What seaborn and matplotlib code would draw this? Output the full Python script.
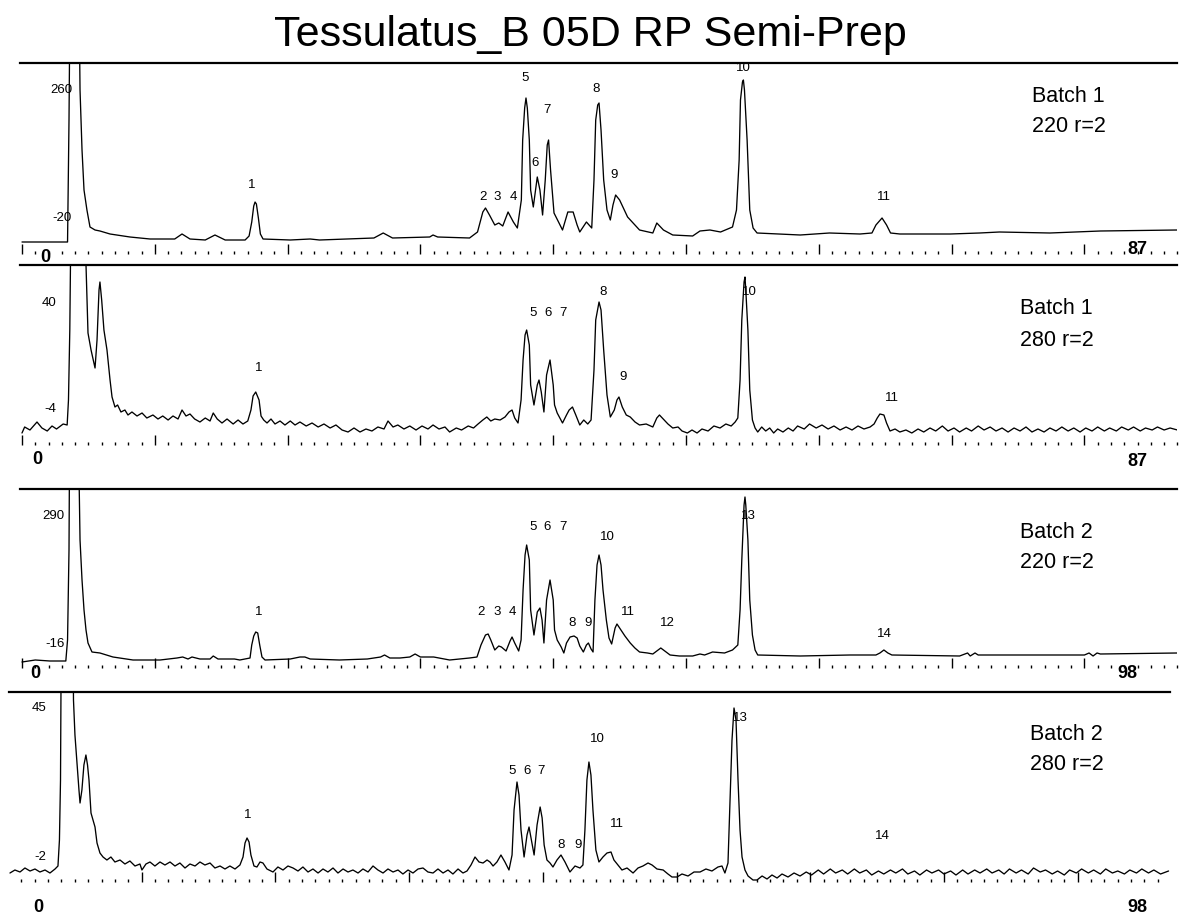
import numpy as np
import pandas as pd
import matplotlib
matplotlib.use("Agg")
import matplotlib.pyplot as plt
from matplotlib.ticker import MultipleLocator
import seaborn as sns

# ---------------- data (time in scale units, signal in arbitrary units above baseline) -------------
title = "Tessulatus_B 05D RP Semi-Prep"

trace_b1_220 = [
    (0, -2), (3.3, -2), (3.43, -2), (3.54, 120), (3.65, 300), (3.84, 600), (4.25, 300), (4.37, 150),
    (4.52, 90), (4.67, 50), (4.89, 30), (5.12, 13), (5.5, 10), (5.87, 9), (6.63, 6), (8.13, 3),
    (9.64, 1), (11.5, 1), (12.05, 6), (12.65, 1), (13.8, 0), (14.53, 5), (15.3, 0), (16.8, 0),
    (17.1, 4), (17.3, 18), (17.45, 34), (17.55, 38), (17.65, 36), (17.8, 22), (17.95, 6), (18.15, 1),
    (20.2, 0), (21.7, 1), (22.4, 0), (26.5, 2), (27.2, 7), (27.9, 2), (30.7, 3), (30.95, 5),
    (31.3, 3), (33.7, 2), (34.3, 8), (34.7, 28), (34.9, 32), (35.2, 25), (35.6, 15), (35.9, 17),
    (36.2, 14), (36.6, 28), (37.0, 18), (37.3, 12), (37.6, 40), (37.7, 100), (37.85, 132), (37.95, 142),
    (38.05, 132), (38.2, 100), (38.3, 50), (38.5, 33), (38.8, 63), (39.0, 50), (39.2, 25), (39.4, 60),
    (39.55, 95), (39.65, 100), (39.8, 70), (40.06, 27), (40.4, 18), (40.7, 10), (41.1, 28), (41.5, 28),
    (41.8, 15), (42.0, 8), (42.5, 18), (42.9, 12), (43.07, 60), (43.2, 120), (43.35, 135), (43.45, 137),
    (43.6, 110), (43.8, 60), (44.05, 30), (44.3, 20), (44.5, 35), (44.7, 45), (45.0, 40), (45.6, 23),
    (46.5, 10), (47.5, 7), (47.8, 17), (48.3, 10), (49.0, 5), (50.5, 4), (51.05, 9), (51.8, 10),
    (52.6, 8), (53.5, 13), (53.8, 30), (54.0, 80), (54.1, 140), (54.25, 158), (54.32, 160), (54.4, 150),
    (54.6, 100), (54.8, 30), (55.05, 12), (55.35, 7), (58.6, 5), (60.8, 7), (63.1, 6), (64.0, 7),
    (64.3, 15), (64.76, 22), (65.1, 15), (65.4, 7), (66.1, 6), (69.9, 6), (72.1, 7), (73.6, 8),
    (77.4, 7), (81.2, 9), (87.0, 10),
]

trace_b1_280 = [
    (0, -5), (0.2, 1), (0.6, -2), (1.13, 6), (1.5, 0), (1.9, -3), (2.26, 2), (2.6, -1), (3.1, 4),
    (3.4, 3), (3.5, 28), (3.6, 98), (3.7, 228), (3.84, 500), (4.6, 450), (4.82, 163), (4.97, 95),
    (5.2, 78), (5.4, 66), (5.5, 60), (5.65, 88), (5.8, 138), (5.87, 146), (6.0, 128), (6.17, 98),
    (6.4, 78), (6.63, 48), (6.78, 31), (7.0, 21), (7.2, 23), (7.45, 16), (7.75, 18), (7.98, 13),
    (8.28, 16), (8.66, 12), (9.04, 15), (9.4, 10), (9.86, 13), (10.24, 9), (10.6, 12), (11.0, 8),
    (11.37, 12), (11.75, 9), (12.05, 18), (12.35, 12), (12.65, 14), (13.0, 9), (13.4, 6), (13.8, 10),
    (14.16, 7), (14.4, 15), (14.7, 9), (15.06, 5), (15.44, 9), (15.9, 4), (16.27, 8), (16.64, 4),
    (17.0, 7), (17.24, 18), (17.4, 32), (17.6, 36), (17.85, 28), (18.0, 12), (18.2, 8), (18.45, 5),
    (18.75, 9), (19.05, 4), (19.43, 7), (19.8, 3), (20.2, 7), (20.56, 3), (20.93, 6), (21.4, 2),
    (21.84, 5), (22.3, 1), (22.74, 4), (23.2, 0), (23.64, 3), (24.1, -2), (24.55, -4), (25.0, 0),
    (25.45, -4), (25.9, -1), (26.35, -3), (26.8, 1), (27.26, -1), (27.56, 7), (27.94, 1), (28.3, 3),
    (28.76, -1), (29.2, 2), (29.67, -2), (30.12, 2), (30.57, -1), (30.95, 3), (31.4, -1), (31.85, 1),
    (32.2, -4), (32.7, 0), (33.1, -2), (33.6, 2), (34.0, 0), (34.34, 4), (34.7, 8), (35.0, 11),
    (35.3, 7), (35.6, 9), (36.0, 8), (36.37, 11), (36.67, 16), (36.9, 18), (37.1, 10), (37.35, 5),
    (37.58, 28), (37.73, 68), (37.88, 93), (38.0, 98), (38.2, 83), (38.3, 43), (38.55, 23), (38.8, 43),
    (38.93, 48), (39.1, 36), (39.3, 16), (39.5, 53), (39.76, 68), (40.0, 43), (40.1, 23), (40.3, 15),
    (40.5, 10), (40.7, 5), (41.0, 13), (41.2, 18), (41.45, 21), (41.7, 13), (42.0, 3), (42.3, 8),
    (42.6, 4), (42.85, 8), (43.07, 58), (43.2, 108), (43.45, 126), (43.6, 118), (43.8, 78), (44.05, 33),
    (44.3, 11), (44.6, 18), (44.8, 28), (44.95, 31), (45.2, 21), (45.5, 13), (45.8, 11), (46.16, 6),
    (46.5, 3), (47.0, 4), (47.5, 1), (47.8, 10), (48.0, 13), (48.35, 8), (48.64, 4), (49.0, 0),
    (49.4, 1), (49.7, -3), (50.1, -5), (50.45, -2), (50.83, -5), (51.2, -1), (51.66, -3), (52.1, 2),
    (52.56, 0), (53.0, 4), (53.4, 2), (53.7, 6), (53.9, 10), (54.07, 48), (54.2, 108), (54.37, 146),
    (54.44, 151), (54.5, 138), (54.66, 98), (54.8, 38), (55.0, 8), (55.2, 0), (55.4, -4), (55.7, 1),
    (56.0, -3), (56.3, 0), (56.6, -5), (56.9, -1), (57.3, -4), (57.7, 0), (58.06, -3), (58.4, 2),
    (58.9, -1), (59.3, 4), (59.8, 0), (60.24, 3), (60.7, -1), (61.14, 2), (61.6, -2), (62.05, 1),
    (62.5, -2), (62.95, 2), (63.4, -1), (63.86, 1), (64.16, 4), (64.4, 10), (64.6, 14), (64.9, 13),
    (65.1, 5), (65.36, -3), (65.74, -1), (66.1, -4), (66.56, -2), (67.0, -5), (67.47, -1), (67.9, -4),
    (68.37, 0), (68.8, -3), (69.3, 2), (69.73, -3), (70.18, 0), (70.6, -4), (71.1, 0), (71.5, -3),
    (72.0, 2), (72.44, -2), (72.9, 1), (73.34, -3), (73.8, 0), (74.25, -4), (74.7, 0), (75.15, -3),
    (75.6, 1), (76.05, -4), (76.5, -1), (76.96, -4), (77.4, 0), (77.86, -3), (78.3, 1), (78.77, -3),
    (79.2, 0), (79.67, -4), (80.1, 0), (80.57, -3), (81.0, 1), (81.5, -3), (81.9, 0), (82.4, -3),
    (82.8, 1), (83.3, -2), (83.7, 1), (84.2, -3), (84.6, 0), (85.1, -2), (85.5, 1), (86.0, -2),
    (86.45, 0), (87.0, -2),
]

trace_b2_220 = [
    (0, -2), (1.0, 0), (2.1, -1), (3.3, -1), (3.43, 20), (3.54, 110), (3.6, 260), (3.84, 600),
    (4.2, 400), (4.3, 180), (4.37, 120), (4.52, 80), (4.67, 50), (4.82, 30), (4.97, 17), (5.27, 8),
    (5.87, 7), (6.85, 3), (8.36, 0), (10.4, 0), (11.67, 2), (12.1, 3), (12.5, 1), (12.8, 3),
    (13.4, 1), (14.16, 1), (14.4, 4), (14.76, 1), (16.0, 1), (16.4, 0), (17.17, 2), (17.3, 15),
    (17.45, 24), (17.6, 28), (17.75, 27), (17.9, 15), (18.07, 3), (18.3, 0), (20.2, 1), (20.93, 3),
    (21.3, 3), (21.7, 1), (23.9, 0), (26.0, 1), (27.0, 3), (27.3, 5), (27.7, 2), (28.46, 2),
    (29.2, 3), (29.6, 6), (30.0, 3), (31.0, 3), (32.2, 0), (33.7, 2), (34.26, 3), (34.56, 15),
    (34.9, 25), (35.1, 26), (35.3, 20), (35.6, 10), (35.9, 14), (36.1, 13), (36.45, 9), (36.75, 19),
    (36.9, 23), (37.1, 17), (37.4, 9), (37.58, 20), (37.73, 70), (37.88, 105), (38.0, 115), (38.2, 100),
    (38.3, 50), (38.55, 25), (38.8, 48), (39.0, 52), (39.16, 40), (39.3, 17), (39.5, 60), (39.76, 80),
    (40.0, 60), (40.1, 30), (40.3, 20), (40.6, 13), (40.8, 7), (41.0, 17), (41.27, 23), (41.57, 24),
    (41.8, 22), (42.0, 14), (42.27, 8), (42.5, 15), (42.65, 17), (42.85, 11), (43.0, 8), (43.14, 60),
    (43.3, 95), (43.45, 105), (43.6, 95), (43.75, 70), (44.0, 40), (44.2, 22), (44.4, 16), (44.66, 32),
    (44.8, 36), (45.0, 32), (45.4, 24), (45.8, 17), (46.15, 12), (46.5, 8), (47.1, 7), (47.5, 6),
    (47.9, 10), (48.1, 12), (48.4, 9), (48.8, 5), (49.5, 4), (50.5, 4), (51.05, 6), (51.4, 5),
    (52.0, 8), (52.9, 7), (53.5, 10), (53.9, 15), (54.07, 50), (54.2, 100), (54.37, 155), (54.44, 163),
    (54.5, 155), (54.66, 120), (54.8, 60), (55.0, 25), (55.2, 10), (55.4, 5), (58.6, 4), (62.35, 5),
    (64.3, 5), (64.6, 7), (64.9, 10), (65.2, 7), (65.5, 5), (70.6, 4), (71.2, 7), (71.4, 4),
    (71.76, 7), (72.0, 5), (73.6, 5), (80.0, 5), (80.35, 7), (80.65, 4), (80.95, 7), (81.2, 6),
    (87.0, 7),
]

trace_b2_280 = [
    (0.15, 0), (0.52, 3), (0.9, 1), (1.27, 5), (1.65, 2), (2.02, 4), (2.39, 1), (2.77, 3), (3.14, 0),
    (3.52, 4), (3.74, 7), (3.85, 33), (3.93, 93), (4.0, 273), (4.19, 600), (4.79, 400), (4.9, 173),
    (5.01, 138), (5.16, 110), (5.31, 83), (5.39, 70), (5.53, 83), (5.68, 108), (5.83, 118), (5.95, 108),
    (6.06, 93), (6.21, 60), (6.36, 53), (6.51, 46), (6.66, 30), (6.88, 20), (7.11, 16), (7.4, 13),
    (7.7, 16), (8.0, 11), (8.38, 13), (8.75, 9), (9.12, 12), (9.5, 7), (9.87, 9), (10.02, 3),
    (10.32, 9), (10.62, 11), (10.99, 7), (11.37, 11), (11.74, 8), (12.12, 11), (12.49, 7), (12.86, 10),
    (13.24, 5), (13.61, 9), (13.99, 7), (14.36, 11), (14.73, 8), (15.11, 10), (15.48, 5), (15.86, 7),
    (16.23, 4), (16.6, 7), (16.98, 4), (17.35, 8), (17.58, 16), (17.73, 30), (17.88, 35), (18.03, 31),
    (18.17, 18), (18.4, 7), (18.62, 6), (18.85, 11), (19.07, 10), (19.37, 4), (19.82, 1), (20.19, 6),
    (20.57, 3), (20.94, 7), (21.32, 5), (21.69, 2), (22.06, 6), (22.44, 1), (22.81, 4), (23.19, 0),
    (23.56, 4), (23.93, 1), (24.31, 5), (24.68, 0), (25.06, 4), (25.43, 1), (25.8, 3), (26.18, 0),
    (26.55, 4), (26.93, 1), (27.3, 7), (27.67, 3), (28.05, 0), (28.42, 4), (28.8, 1), (29.17, 3),
    (29.54, -1), (29.92, 3), (30.29, 0), (30.67, 4), (31.04, 5), (31.41, 1), (31.79, 0), (32.16, 4),
    (32.54, 0), (32.91, 3), (33.28, -1), (33.66, 4), (34.03, 0), (34.33, 2), (34.63, 8), (34.93, 16),
    (35.23, 11), (35.53, 10), (35.83, 13), (36.05, 11), (36.28, 7), (36.57, 11), (36.87, 18), (37.17, 11),
    (37.47, 3), (37.7, 18), (37.85, 63), (38.07, 91), (38.22, 78), (38.37, 43), (38.6, 16), (38.82, 38),
    (38.97, 46), (39.12, 35), (39.35, 18), (39.57, 48), (39.8, 66), (39.95, 55), (40.1, 28), (40.31, 13),
    (40.54, 10), (40.76, 6), (41.06, 13), (41.36, 18), (41.66, 11), (42.03, 1), (42.41, 7), (42.78, 5),
    (43.0, 8), (43.15, 43), (43.3, 93), (43.45, 111), (43.6, 98), (43.75, 63), (43.97, 23), (44.2, 11),
    (44.5, 16), (44.8, 20), (45.1, 21), (45.32, 13), (45.62, 8), (45.92, 3), (46.3, 5), (46.75, 0),
    (47.12, 5), (47.49, 7), (47.87, 10), (48.17, 8), (48.54, 4), (49.0, 3), (49.36, -1), (49.66, -4),
    (50.04, -4), (50.41, -1), (50.86, -3), (51.31, 1), (51.76, 1), (52.2, 4), (52.65, 2), (53.1, 6),
    (53.4, 7), (53.62, 0), (53.85, 10), (54.0, 73), (54.15, 133), (54.3, 165), (54.45, 153), (54.6, 93),
    (54.75, 43), (54.9, 16), (55.12, 3), (55.35, -3), (55.72, -7), (56.02, -7), (56.4, -3), (56.77, -6),
    (57.14, -2), (57.52, -5), (57.89, -1), (58.34, -4), (58.79, 0), (59.24, -3), (59.7, 1), (60.1, -2),
    (60.6, 3), (61.0, -1), (61.5, 4), (61.9, 0), (62.4, 3), (62.8, -1), (63.3, 4), (63.7, 0),
    (64.2, 3), (64.6, -2), (65.1, 2), (65.5, -1), (66.0, 3), (66.4, 0), (66.9, 4), (67.3, -1),
    (67.8, 2), (68.2, -2), (68.7, 3), (69.1, 0), (69.6, 3), (70.0, -1), (70.5, 2), (70.9, -2),
    (71.4, 3), (71.8, -1), (72.3, 3), (72.7, 0), (73.2, 4), (73.6, 0), (74.1, 3), (74.5, -1),
    (74.9, 4), (75.4, 0), (75.8, 3), (76.3, -1), (76.7, 5), (77.2, 1), (77.6, 3), (78.1, -1),
    (78.5, 2), (79.0, -2), (79.4, 3), (79.9, 0), (80.3, 4), (80.8, 0), (81.2, 3), (81.7, -1),
    (82.1, 4), (82.6, 0), (83.0, 2), (83.5, -1), (83.9, 3), (84.4, 0), (84.8, 4), (85.3, 0),
    (85.7, 3), (86.2, -1), (86.8, 2),
]

panel_traces = [trace_b1_220, trace_b1_280, trace_b2_220, trace_b2_280]
panel_batch = ["Batch 1", "Batch 1", "Batch 2", "Batch 2"]
panel_wavelength = ["220 r=2", "280 r=2", "220 r=2", "280 r=2"]
panel_end_labels = [("0", "87"), ("0", "87"), ("0", "98"), ("0", "98")]
panel_y_labels = [("260", "-20"), ("40", "-4"), ("290", "-16"), ("45", "-2")]

peak_names_b1_220 = ["1", "2", "3", "4", "5", "6", "7", "8", "9", "10", "11"]
peak_names_b1_280 = ["1", "5", "6", "7", "8", "9", "10", "11"]
peak_names_b2_220 = ["1", "2", "3", "4", "5", "6", "7", "8", "9", "10", "11", "12", "13", "14"]
peak_names_b2_280 = ["1", "5", "6", "7", "8", "9", "10", "11", "13", "14"]
panel_peak_names = [peak_names_b1_220, peak_names_b1_280, peak_names_b2_220, peak_names_b2_280]

# ---------------- layout (annotation placement, pixels / data units) ----------------
W, H = 1179, 917
# left px, right px, top px, bottom px, xlim, ylim
layout = [
    (20.0, 1177.4, 63, 254, (-0.15, 87.0), (-14, 177)),
    (20.0, 1177.4, 265, 445, (-0.15, 87.0), (-17, 163)),
    (20.0, 1177.4, 489, 668, (-0.15, 87.0), (-8, 171)),
    (9.3, 1169.9, 692, 882, (0.1, 86.9), (-9, 181)),
]
peak_label_pos = [
    [(17.3, 55), (34.7, 43), (35.8, 43), (37.0, 43), (37.9, 162), (38.6, 77), (39.5, 130),
     (43.2, 151), (44.6, 65), (54.3, 172), (64.9, 43)],
    [(17.8, 60), (38.5, 115), (39.6, 115), (40.7, 115), (43.75, 136), (45.25, 51), (54.8, 136), (65.5, 30)],
    [(17.8, 48), (34.6, 48), (35.8, 48), (36.9, 48), (38.5, 133), (39.5, 133), (40.7, 133),
     (41.4, 37), (42.6, 37), (44.05, 123), (45.6, 48), (48.6, 37), (54.7, 144), (64.9, 26)],
    [(17.9, 58), (37.7, 102), (38.8, 102), (39.9, 102), (41.4, 28), (42.6, 28), (44.05, 134),
     (45.55, 49), (54.75, 155), (65.4, 37)],
]
end_label_pos = [((1.73, -18), (84.0, -10)), ((1.13, -32), (84.0, -34)),
                 ((0.98, -13), (83.2, -13)), ((2.24, -34), (84.5, -34))]
ylabel_pos = [((3.8, 150), (3.75, 22)), ((2.6, 125), (2.6, 19)),
              ((3.2, 144), (3.2, 16)), ((2.9, 165), (2.9, 16))]
batch_pos = [(76.05, 143, 113), (75.15, 120, 88), (75.15, 127, 98), (76.4, 138, 108)]

# ---------------- drawing ----------------
sns.set_style("white")
plt.rcParams["font.family"] = ["Liberation Sans", "DejaVu Sans"]
plt.rcParams["text.color"] = "black"

fig = plt.figure(figsize=(W / 100, H / 100), dpi=100)
fig.patch.set_facecolor("white")

for i, trace in enumerate(panel_traces):
    L, R, T, B, xl, yl = layout[i]
    ax = fig.add_axes([L / W, 1 - B / H, (R - L) / W, (B - T) / H])
    df = pd.DataFrame(trace, columns=["t", "signal"])
    sns.lineplot(data=df, x="t", y="signal", ax=ax, color="black", linewidth=0.95,
                 estimator=None, sort=False, legend=False, zorder=3)
    ax.set_xlim(*xl)
    ax.set_ylim(*yl)
    ax.set_xlabel("")
    ax.set_ylabel("")
    ax.set_facecolor("none")
    for side in ["left", "right", "bottom"]:
        ax.spines[side].set_visible(False)
    ax.spines["top"].set_visible(True)
    ax.spines["top"].set_linewidth(1.6)
    ax.spines["top"].set_color("black")
    ax.xaxis.set_major_locator(MultipleLocator(10))
    ax.xaxis.set_minor_locator(MultipleLocator(1))
    ax.tick_params(axis="x", which="major", direction="in", length=7, width=1.0,
                   color="black", bottom=True, top=False, labelbottom=False)
    ax.tick_params(axis="x", which="minor", direction="in", length=2.4, width=1.0,
                   color="black", bottom=True, top=False, labelbottom=False)
    ax.tick_params(axis="y", left=False, right=False, labelleft=False)
    ax.grid(False)

    for name, (px, py) in zip(panel_peak_names[i], peak_label_pos[i]):
        ax.text(px, py, name, ha="center", va="center", fontsize=9.5, color="black",
                clip_on=False, zorder=2)

    (x0, y0), (x1, y1) = end_label_pos[i]
    ax.text(x0, y0, panel_end_labels[i][0], ha="center", va="center", fontsize=13,
            fontweight="bold", color="black", clip_on=False)
    ax.text(x1, y1, panel_end_labels[i][1], ha="center", va="center", fontsize=13,
            fontweight="bold", color="black", clip_on=False)

    (a0, b0), (a1, b1) = ylabel_pos[i]
    ax.text(a0, b0, panel_y_labels[i][0], ha="right", va="center", fontsize=9.5,
            color="black", clip_on=False)
    ax.text(a1, b1, panel_y_labels[i][1], ha="right", va="center", fontsize=9.5,
            color="black", clip_on=False)

    bx, by1, by2 = batch_pos[i]
    ax.text(bx, by1, panel_batch[i], ha="left", va="center", fontsize=15.5,
            color="black", clip_on=False)
    ax.text(bx, by2, panel_wavelength[i], ha="left", va="center", fontsize=15.5,
            color="black", clip_on=False)

fig.text(590 / W, 1 - 35 / H, title, ha="center", va="center", fontsize=31, color="black")

fig.savefig("out.png", dpi=100, facecolor="white")
